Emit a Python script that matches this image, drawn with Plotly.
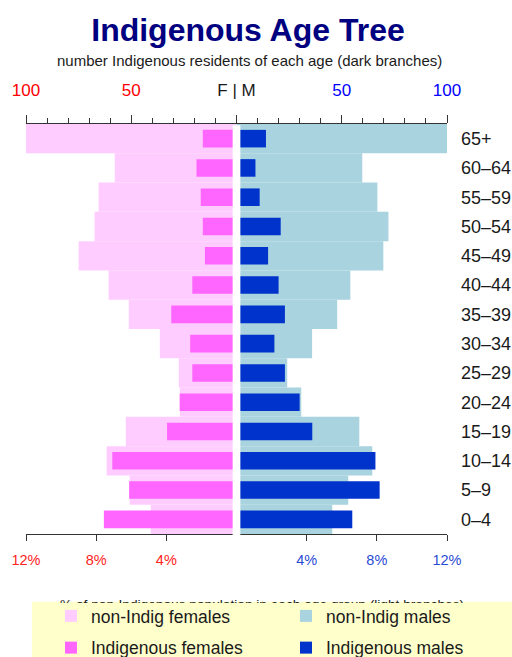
import plotly.graph_objects as go

AGE_GROUPS = ["0–4", "5–9", "10–14", "15–19", "20–24", "25–29", "30–34",
              "35–39", "40–44", "45–49", "50–54", "55–59", "60–64", "65+"]

# % of non-Indigenous population in each age group (light branches)
NON_INDIG_F = [4.89, 6.09, 7.40, 6.31, 3.23, 3.29, 4.37, 6.14, 7.29, 9.00, 8.09, 7.86, 6.94, 12.31]
NON_INDIG_M = [5.46, 6.37, 7.74, 7.00, 3.69, 2.89, 4.31, 5.74, 6.49, 8.37, 8.66, 8.03, 7.17, 12.30]

# number of Indigenous residents of each age (dark branches)
INDIG_F = [63, 51, 59, 33, 27, 21, 22, 31, 21, 15, 16, 17, 19, 16]
INDIG_M = [55, 68, 66, 36, 30, 23, 18, 23, 20, 15, 21, 11, 9, 14]

PCT_TICKS = [-12, -8, -4, 4, 8, 12]
COUNT_TICKS = [-100, -50, 0, 50, 100]

C_F_LIGHT = "#ffccff"
C_F_DARK = "#ff66ff"
C_M_LIGHT = "#a8d3df"
C_M_DARK = "#0033cc"
LEGEND_BG = "#ffffcc"

SANS = "Liberation Sans, Arial, sans-serif"

W, H = 512, 657
M_L, M_R, M_T, M_B = 26, 65, 124, 123
PLOT_W, PLOT_H = W - M_L - M_R, H - M_T - M_B


def px_x(p):
    return (p - M_L) / PLOT_W


def px_y(p):
    return (H - M_B - p) / PLOT_H


def _pct_label(v):
    col = "#ff2222" if v < 0 else "#2a4bd4"
    return f'<span style="color:{col}">{abs(v)}%</span>'


def _count_label(v):
    if v == 0:
        return "F | M"
    col = "#ff0000" if v < 0 else "#0000ff"
    return f'<span style="color:{col}">{abs(v)}</span>'


fig = go.Figure()
fig.add_trace(go.Bar(
    y=AGE_GROUPS, x=[-v for v in NON_INDIG_F], orientation="h", width=1,
    marker=dict(color=C_F_LIGHT, line_width=0), name="non-Indig females",
    xaxis="x", legend="legend", legendgroup="a",
))
fig.add_trace(go.Bar(
    y=AGE_GROUPS, x=NON_INDIG_M, orientation="h", width=1,
    marker=dict(color=C_M_LIGHT, line_width=0), name="non-Indig males",
    xaxis="x", legend="legend2", legendgroup="c",
))
fig.add_trace(go.Bar(
    y=AGE_GROUPS, x=[-v for v in INDIG_F], orientation="h", width=0.6,
    marker=dict(color=C_F_DARK, line_width=0), name="Indigenous females",
    xaxis="x2", legend="legend", legendgroup="b",
))
fig.add_trace(go.Bar(
    y=AGE_GROUPS, x=INDIG_M, orientation="h", width=0.6,
    marker=dict(color=C_M_DARK, line_width=0), name="Indigenous males",
    xaxis="x2", legend="legend2", legendgroup="d",
))

# white gap down the middle between the two halves
fig.add_shape(type="rect", xref="x", yref="paper", x0=-0.22, x1=0.22, y0=-0.03, y1=0.997,
              fillcolor="white", line_width=0, layer="above")
# pale yellow legend panel
fig.add_shape(type="rect", xref="paper", yref="paper", x0=px_x(32), x1=px_x(530),
              y0=px_y(601.7), y1=px_y(680), fillcolor=LEGEND_BG, line_width=0, layer="above")

# x-axis title, mostly hidden behind the legend panel (only glyph tops show)
fig.add_annotation(
    text="% of non-Indigenous population in each age group (light branches)",
    xref="paper", yref="paper", x=px_x(261.5), y=px_y(595.6), xanchor="center", yanchor="top",
    height=6, width=440, valign="top", borderpad=0, showarrow=False,
    font=dict(size=13.7, color="#1a1a1a"),
)
fig.add_annotation(
    text="number Indigenous residents of each age (dark branches)",
    xref="paper", yref="paper", x=px_x(249.7), y=px_y(60.5), xanchor="center", yanchor="middle",
    showarrow=False, font=dict(size=15, color="#1a1a1a"),
)

legend_common = dict(
    orientation="v", xref="container", yref="container", yanchor="top", xanchor="left",
    bgcolor="rgba(0,0,0,0)", borderwidth=0, tracegroupgap=6,
    font=dict(size=17.5, color="#1a1a1a"),
)

fig.update_layout(
    width=W, height=H,
    margin=dict(l=M_L, r=M_R, t=M_T, b=M_B, autoexpand=False),
    paper_bgcolor="white", plot_bgcolor="white",
    barmode="overlay",
    font=dict(family=SANS, color="#1a1a1a"),
    title=dict(
        text="Indigenous Age Tree",
        font=dict(size=32, color="#000080", weight="bold"),
        x=248 / W, xanchor="center", xref="container",
        y=1 - 30 / H, yanchor="middle", yref="container",
    ),
    xaxis=dict(
        range=[-12, 12], tickvals=PCT_TICKS, ticktext=[_pct_label(v) for v in PCT_TICKS],
        tickfont=dict(size=14.5),
        ticks="outside", ticklen=6, tickcolor="#333", tickwidth=1,
        showline=True, linecolor="#333", linewidth=1, showgrid=False, zeroline=False,
        ticklabelstandoff=7, automargin=False,
    ),
    xaxis2=dict(
        range=[-100, 100], overlaying="x", side="top", anchor="y",
        tickvals=COUNT_TICKS, ticktext=[_count_label(v) for v in COUNT_TICKS],
        tickfont=dict(size=17, color="#1a1a1a"),
        ticks="outside", ticklen=8, tickcolor="#333", tickwidth=1,
        minor=dict(dtick=10, tick0=0, ticks="outside", ticklen=5, tickcolor="#333", showgrid=False),
        showline=True, linecolor="#333", linewidth=1, showgrid=False, zeroline=False,
        ticklabelstandoff=12, automargin=False,
    ),
    yaxis=dict(
        categoryorder="array", categoryarray=AGE_GROUPS, range=[-0.5, 13.5],
        side="right", ticks="", showgrid=False, zeroline=False, showline=False,
        tickfont=dict(size=18, color="#1a1a1a"), ticklabelstandoff=13, automargin=False,
    ),
    legend=dict(x=51 / W, y=1 - 598 / H, **legend_common),
    legend2=dict(x=286 / W, y=1 - 598 / H, **legend_common),
)

fig.write_html("out.html", config={"displayModeBar": False},
               post_script="document.body.style.margin = '0';")
